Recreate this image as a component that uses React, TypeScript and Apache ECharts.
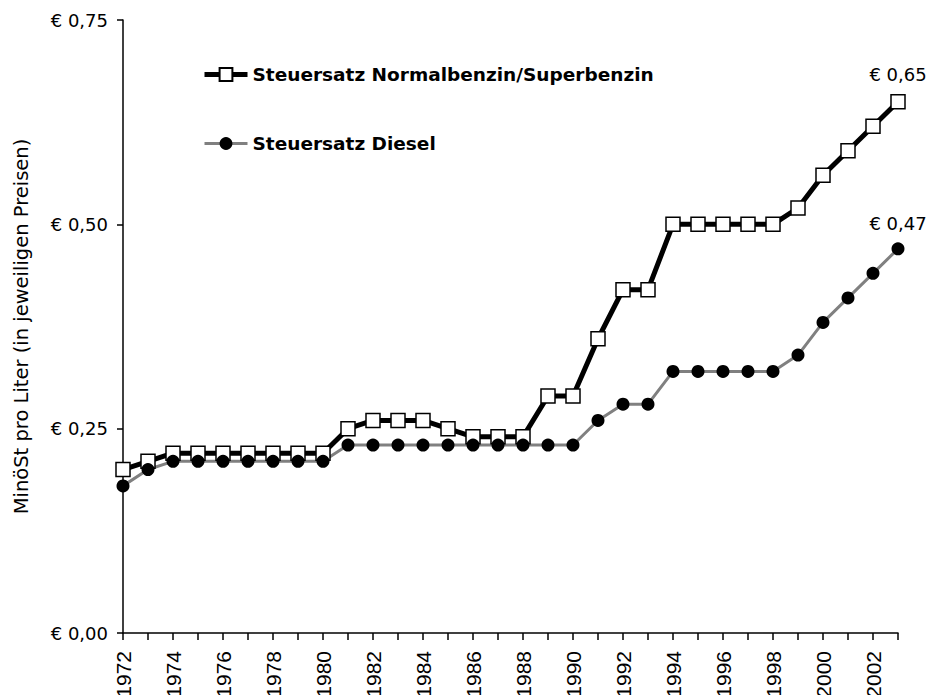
import React, { useEffect, useRef } from "react";
import * as echarts from "echarts";

const years = [
  "1972", "1973", "1974", "1975", "1976", "1977", "1978", "1979", "1980", "1981",
  "1982", "1983", "1984", "1985", "1986", "1987", "1988", "1989", "1990", "1991",
  "1992", "1993", "1994", "1995", "1996", "1997", "1998", "1999", "2000", "2001",
  "2002", "2003",
];

const benzin = [
  0.20, 0.21, 0.22, 0.22, 0.22, 0.22, 0.22, 0.22, 0.22, 0.25,
  0.26, 0.26, 0.26, 0.25, 0.24, 0.24, 0.24, 0.29, 0.29, 0.36,
  0.42, 0.42, 0.50, 0.50, 0.50, 0.50, 0.50, 0.52, 0.56, 0.59,
  0.62, 0.65,
];

const diesel = [
  0.18, 0.20, 0.21, 0.21, 0.21, 0.21, 0.21, 0.21, 0.21, 0.23,
  0.23, 0.23, 0.23, 0.23, 0.23, 0.23, 0.23, 0.23, 0.23, 0.26,
  0.28, 0.28, 0.32, 0.32, 0.32, 0.32, 0.32, 0.34, 0.38, 0.41,
  0.44, 0.47,
];

const seriesNames = ["Steuersatz Normalbenzin/Superbenzin", "Steuersatz Diesel"];
const yAxisTitle = "MinöSt pro Liter (in jeweiligen Preisen)";

const euro = (v: number) => "€ " + v.toFixed(2).replace(".", ",");
const FONT = "DejaVu Sans";

function withEndLabel(values: number[]) {
  return values.map((v, i) =>
    i === values.length - 1
      ? {
          value: v,
          label: {
            show: true,
            position: "top",
            distance: 10,
            formatter: (p: any) => euro(p.value),
            fontFamily: FONT,
            fontSize: 18,
            color: "#000",
          },
        }
      : v
  );
}

export default function App() {
  const ref = useRef<HTMLDivElement>(null);
  useEffect(() => {
    if (!ref.current) return;
    const chart = echarts.init(ref.current, undefined, { renderer: "svg" });
    chart.setOption({
      animation: false,
      backgroundColor: "#fff",
      grid: {
        left: 123,
        right: 30,
        top: 20,
        bottom: 62,
        containLabel: false,
        outerBoundsMode: "none",
      },
      legend: {
        orient: "vertical",
        left: 197,
        top: 60,
        padding: 5,
        itemGap: 50,
        itemWidth: 43,
        itemHeight: 16,
        data: seriesNames,
        lineStyle: { width: "inherit" },
        textStyle: { fontFamily: FONT, fontSize: 18.5, fontWeight: "bold", color: "#000" },
      },
      xAxis: {
        type: "category",
        data: years,
        boundaryGap: false,
        axisLine: { lineStyle: { color: "#000", width: 1.5 } },
        axisTick: { interval: 0, length: 7, lineStyle: { color: "#000", width: 1.5 } },
        axisLabel: {
          interval: 1,
          rotate: 90,
          margin: 18,
          fontFamily: "Liberation Sans",
          fontSize: 21,
          color: "#000",
        },
        splitLine: { show: false },
      },
      yAxis: {
        type: "value",
        min: 0,
        max: 0.75,
        interval: 0.25,
        name: yAxisTitle,
        nameLocation: "middle",
        nameGap: 92,
        nameTextStyle: { fontFamily: FONT, fontSize: 19.5, color: "#000" },
        axisLine: { show: true, lineStyle: { color: "#000", width: 1.5 } },
        axisTick: { show: true, length: 6, lineStyle: { color: "#000", width: 1.5 } },
        axisLabel: {
          formatter: (v: number) => euro(v),
          margin: 15,
          fontFamily: FONT,
          fontSize: 18,
          color: "#000",
        },
        splitLine: { show: false },
      },
      series: [
        {
          name: seriesNames[0],
          type: "line",
          data: withEndLabel(benzin),
          symbol: "rect",
          symbolSize: 14,
          showAllSymbol: true,
          lineStyle: { color: "#000", width: 5 },
          itemStyle: { color: "#fff", borderColor: "#000", borderWidth: 1.5 },
          emphasis: { disabled: true },
        },
        {
          name: seriesNames[1],
          type: "line",
          data: withEndLabel(diesel),
          symbol: "circle",
          symbolSize: 13,
          showAllSymbol: true,
          lineStyle: { color: "#808080", width: 3 },
          itemStyle: { color: "#000", borderColor: "#000", borderWidth: 0 },
          emphasis: { disabled: true },
        },
      ],
    });
    return () => chart.dispose();
  }, []);
  return (
    <div
      ref={ref}
      style={{ position: "absolute", left: 0, top: 0, width: 928, height: 695 }}
    />
  );
}
